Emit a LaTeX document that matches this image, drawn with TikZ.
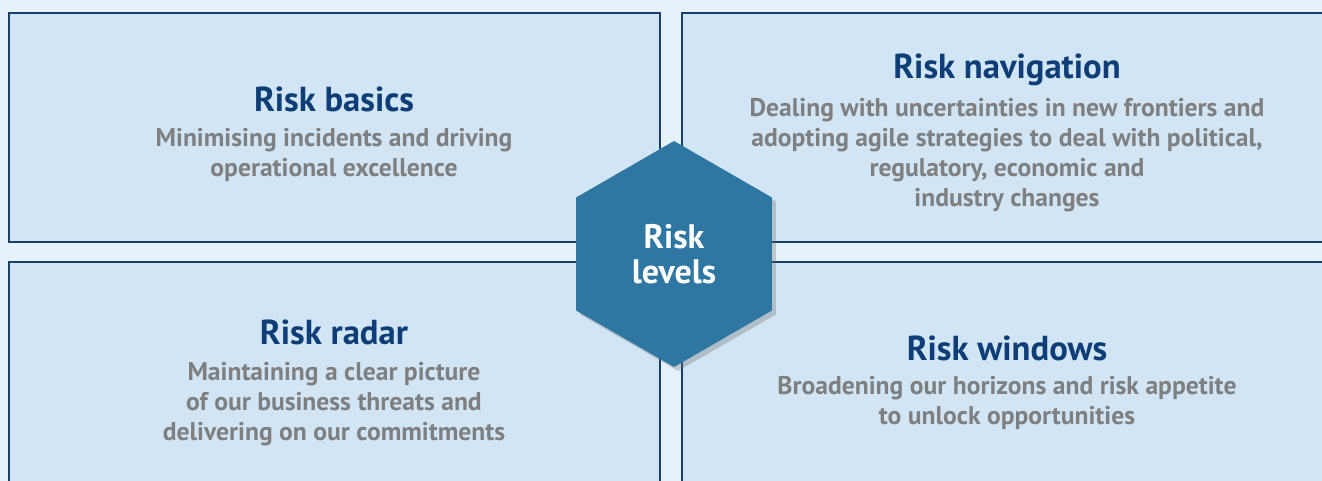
\documentclass[tikz,border=0pt]{standalone}
\usepackage{fontspec}
\setmainfont{PT Sans}
\usepackage{xcolor}
\usetikzlibrary{shapes.geometric,shadows}

\definecolor{pageblue}{HTML}{E6F1FA}
\definecolor{boxblue}{HTML}{D1E5F5}
\definecolor{edgenavy}{HTML}{17406F}
\definecolor{titlenavy}{HTML}{0E3E78}
\definecolor{bodygrey}{HTML}{7F7F7F}
\definecolor{hexblue}{HTML}{2E77A3}

\tikzset{
  panel/.style={fill=boxblue, draw=edgenavy, line width=1.3},
  paneltitle/.style={text=titlenavy, inner sep=0.75pt, font=\fontsize{26}{30}\selectfont\bfseries},
  paneltext/.style={text=bodygrey, inner sep=0.75pt, align=center, font=\fontsize{19.2}{22.5}\selectfont\bfseries},
}

\begin{document}
\begin{tikzpicture}[x=0.75pt,y=0.75pt,yscale=-1,xscale=1]
\useasboundingbox (0,0) rectangle (1322,481);
\fill [pageblue] (0,0) rectangle (1322,481);
\begin{scope}
\clip (0,0) rectangle (1322,481);
% the four panels
\draw [panel] (9,13) rectangle (660,242);
\draw [panel] (682,13) rectangle (1340,242);
\draw [panel] (9,262) rectangle (660,500);
\draw [panel] (682,262) rectangle (1340,500);
\end{scope}
% top left
\node [paneltitle] (basicsT) at (334,99) {Risk basics};
\node [paneltext] (basicsB) at (334,155) {Minimising incidents and driving\\operational excellence};
% top right
\node [paneltitle] (navT) at (1007,70) {Risk navigation};
\node [paneltext] (navB) at (1007,155) {Dealing with uncertainties in new frontiers and\\adopting agile strategies to deal with political,\\regulatory, economic and\\industry changes};
% bottom left
\node [paneltitle] (radarT) at (334,332) {Risk radar};
\node [paneltext] (radarB) at (334,404) {Maintaining a clear picture\\of our business threats and\\delivering on our commitments};
% bottom right
\node [paneltitle] (winT) at (1007,348) {Risk windows};
\node [paneltext] (winB) at (1007,403) {Broadening our horizons and risk appetite\\to unlock opportunities};
% centre hexagon
\node [regular polygon, regular polygon sides=6, shape border rotate=30, minimum size=169.5pt, inner sep=0pt, fill=hexblue, drop shadow={shadow xshift=3pt, shadow yshift=-3pt, opacity=0.3, fill=black!60}, text=white, align=center, font=\fontsize{25.5}{26}\selectfont\bfseries] (levels) at (674,254) {Risk\\levels};
\end{tikzpicture}
\end{document}
